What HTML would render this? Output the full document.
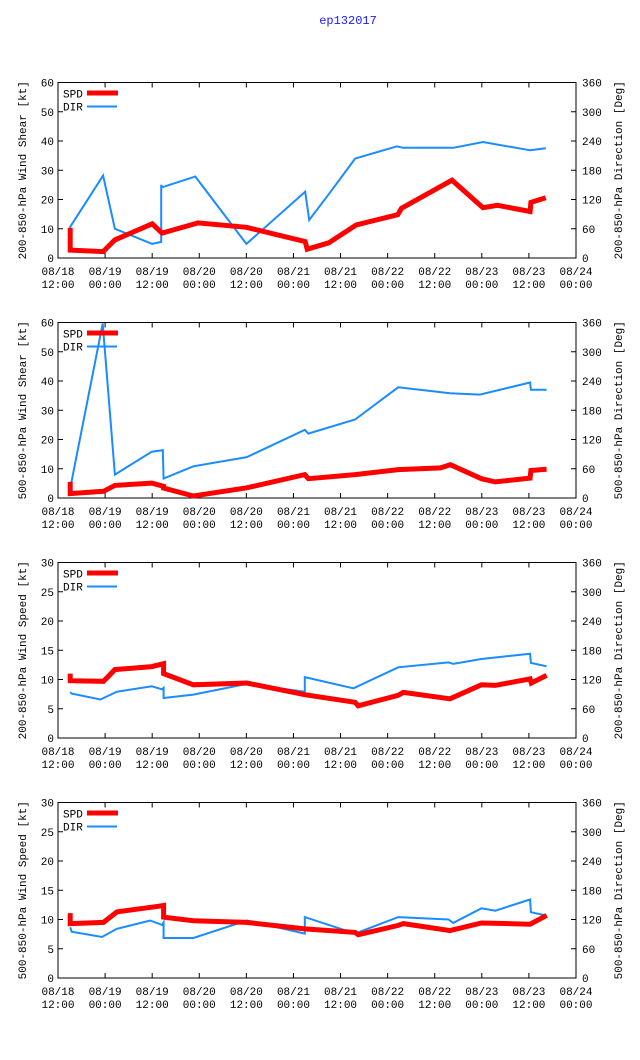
<!DOCTYPE html>
<html><head><meta charset="utf-8">
<style>
body{margin:0;background:#fff;}
svg{display:block;font-family:"Liberation Mono","DejaVu Sans Mono",monospace;font-size:11px;}
</style></head>
<body>
<svg id="chart" width="640" height="1060" viewBox="0 0 640 1060">
<text x="348" y="24" text-anchor="middle" fill="#1a1aff" font-size="12">ep132017</text>
</svg>
<script>
// time (hours from 08/18 12:00) and values per panel
const xTickLabels1 = ["08/18","08/19","08/19","08/20","08/20","08/21","08/21","08/22","08/22","08/23","08/23","08/24"];
const xTickLabels2 = ["12:00","00:00","12:00","00:00","12:00","00:00","12:00","00:00","12:00","00:00","12:00","00:00"];
const leftTicks1 = [0,10,20,30,40,50,60];
const leftTicks2 = [0,5,10,15,20,25,30];
const rightTicks = [0,60,120,180,240,300,360];
const titlesLeft = ["200-850-hPa Wind Shear [kt]","500-850-hPa Wind Shear [kt]","200-850-hPa Wind Speed [kt]","500-850-hPa Wind Speed [kt]"];
const titlesRight = ["200-850-hPa Direction [Deg]","500-850-hPa Direction [Deg]","200-850-hPa Direction [Deg]","500-850-hPa Direction [Deg]"];

const spd1T = [3.1,3.1,11.5,14.5,24,26.5,35.7,48,63,63.5,69,76,86.6,87.5,100.4,108.3,112,120.3,120.5,124.3];
const spd1V = [10.3,2.7,2.2,6.2,11.7,8.5,12,10.5,5.6,3,5.2,11.3,14.8,17,26.6,17.2,18,15.9,19,20.6];
const dir1T = [3.1,3.1,11.5,14.5,24,26.3,26.3,26.5,35,48,63,64,69.3,75.7,86.3,88,100.7,108.3,120.3,124.3];
const dir1V = [25,64,169,60,29,33,150,145,167,29,136,78,134,204,229,226,226,238,221,225];

const spd2T = [3.1,3.1,11.6,14.5,23.9,26.9,26.9,34.5,48.1,62.9,63.8,75.7,86.7,97.5,100,107.9,111.4,120.3,120.5,124.5];
const spd2V = [5.5,1.5,2.3,4.3,5.1,4.0,3.4,0.7,3.5,8.0,6.6,8.0,9.7,10.3,11.4,6.6,5.5,6.8,9.4,9.8];
const dir2T = [3.1,3.1,11.4,14.5,23.9,26.7,26.9,34.5,48.1,62.9,63.8,75.7,86.7,99.9,107.5,120.3,120.5,124.5];
const dir2V = [5,20,358,48,95,98,40,65,84,140,132,161,227,215,212,237,222,222];

const spd3T = [3.1,3.1,11.6,14.5,23.9,26.9,26.9,34.5,48.1,62.9,75.7,76.5,86.7,88,99.9,107.9,111.4,120.3,120.6,124.5];
const spd3V = [11,9.8,9.7,11.7,12.2,12.7,11,9.1,9.4,7.4,6.1,5.5,7.3,7.8,6.7,9.1,9.0,10.1,9.4,10.7];
const dir3T = [3.1,3.5,10.8,15,23.9,26.5,26.9,26.9,34.5,48.1,62.9,62.9,75.3,86.7,99.5,100.7,107.9,120.3,120.5,124.5];
const dir3V = [94,91,79,95,106,100,103,82,89,111,95,125,102,145,155,152,162,173,154,147];

const spd4T = [3.1,3.1,11.6,15,23.9,26.9,26.9,34.5,48.1,62.9,75.7,76.5,86.7,88,99.9,107.9,120.3,124.5];
const spd4V = [11.1,9.3,9.5,11.3,12.1,12.4,10.4,9.8,9.5,8.4,7.8,7.4,9.0,9.3,8.1,9.4,9.2,10.7];
const dir4T = [3.1,3.5,11.2,15,23.5,26.5,26.9,26.9,34.5,48.1,62.9,62.9,75.7,86.7,99.5,100.7,107.9,111.4,120.3,120.5,124.5];
const dir4V = [104,95,84,101,118,109,114,82,82,118,91,125,91,125,120,113,143,138,161,135,128];

const svg = document.getElementById('chart');
const NS = 'http://www.w3.org/2000/svg';
function mk(tag, attrs, parent){const e=document.createElementNS(NS,tag);for(const k in attrs)e.setAttribute(k,attrs[k]);(parent||svg).appendChild(e);return e;}

const X0=58, X1=576, HMAX=132;
function xs(h){return X0+(h/HMAX)*(X1-X0);}

const panels=[
 {lmax:60,lt:leftTicks1,sT:spd1T,sV:spd1V,dT:dir1T,dV:dir1V},
 {lmax:60,lt:leftTicks1,sT:spd2T,sV:spd2V,dT:dir2T,dV:dir2V},
 {lmax:30,lt:leftTicks2,sT:spd3T,sV:spd3V,dT:dir3T,dV:dir3V},
 {lmax:30,lt:leftTicks2,sT:spd4T,sV:spd4V,dT:dir4T,dV:dir4V}
];

panels.forEach((p,i)=>{
  const top=82.5+240*i, bot=258+240*i;
  const g=mk('g',{});
  
  
  const yl=v=>bot-(v/p.lmax)*(bot-top);
  const yr=v=>bot-(v/360)*(bot-top);
  // axes frame
  const fr=mk('rect',{x:X0,y:top,width:X1-X0,height:bot-top,fill:'none',stroke:'#000','stroke-width':1},g);
  
  
  // x ticks
  xTickLabels1.forEach((l,k)=>{
    const x=xs(k*12);
    mk('line',{x1:x,x2:x,y1:bot,y2:bot-5,stroke:'#000'},g);
    mk('line',{x1:x,x2:x,y1:top,y2:top+5,stroke:'#000'},g);
    const t=mk('text',{x:x,y:bot+17,'text-anchor':'middle'},g);
    
    
    t.textContent=l;
    const t2=mk('text',{x:x,y:bot+30,'text-anchor':'middle'},g);
    
    
    t2.textContent=xTickLabels2[k];
  });
  p.lt.forEach(v=>{
    const y=yl(v);
    mk('line',{x1:X0,x2:X0+5,y1:y,y2:y,stroke:'#000'},g);
    const t=mk('text',{x:X0-4,y:y+4,'text-anchor':'end'},g);
    
    
    t.textContent=v;
  });
  rightTicks.forEach(v=>{
    const y=yr(v);
    mk('line',{x1:X1,x2:X1-5,y1:y,y2:y,stroke:'#000'},g);
    const t=mk('text',{x:X1+6,y:y+4,'text-anchor':'start'},g);
    
    
    t.textContent=v;
  });
  const my=(top+bot)/2;
  const lt=mk('text',{x:26,y:my,'text-anchor':'middle',transform:`rotate(-90 26 ${my})`},g);
  
  
  lt.textContent=titlesLeft[i];
  const rt=mk('text',{x:622,y:my,'text-anchor':'middle',transform:`rotate(-90 622 ${my})`},g);
  
  
  rt.textContent=titlesRight[i];
  // series
  const dpts=p.dT.map((t,k)=>xs(t).toFixed(1)+','+yr(p.dV[k]).toFixed(1)).join(' ');
  const dl=mk('polyline',{points:dpts,fill:'none',stroke:'#1a8cff','stroke-width':2,'stroke-linejoin':'miter'},g);
  
  
  const spts=p.sT.map((t,k)=>xs(t).toFixed(1)+','+yl(p.sV[k]).toFixed(1)).join(' ');
  const sl=mk('polyline',{points:spts,fill:'none',stroke:'#ff0000','stroke-width':5,'stroke-linejoin':'miter'},g);
  
  
  // legend
  const lg=mk('g',{},g);
  
  
  const t1=mk('text',{x:63,y:top+15},lg);t1.textContent='SPD';
  
  
  mk('line',{x1:87,x2:118,y1:top+10.5,y2:top+10.5,stroke:'#ff0000','stroke-width':5},lg);
  const t2=mk('text',{x:63,y:top+28},lg);t2.textContent='DIR';
  
  
  mk('line',{x1:87,x2:117,y1:top+24,y2:top+24,stroke:'#1a8cff','stroke-width':2},lg);
});
</script>
</body></html>
